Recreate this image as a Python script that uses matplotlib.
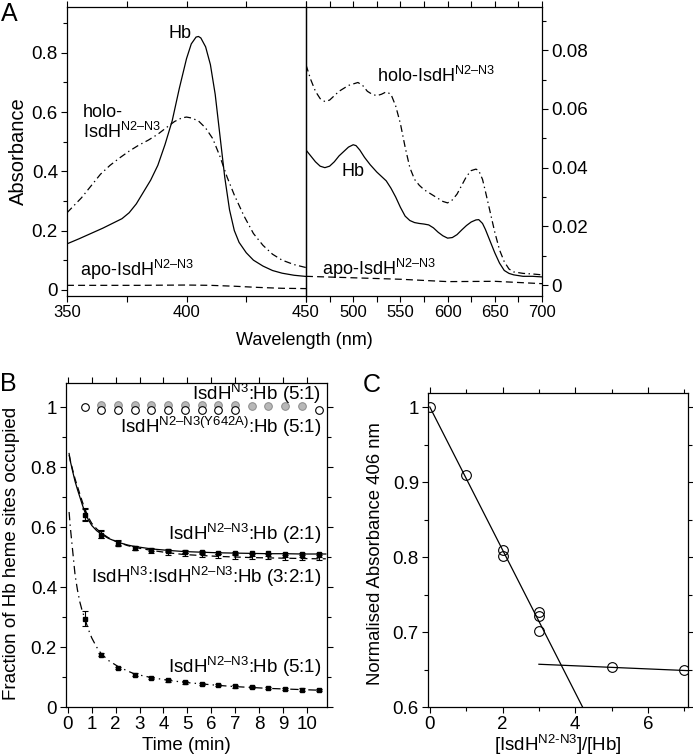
import matplotlib
matplotlib.use("Agg")
import matplotlib.pyplot as plt
from matplotlib.ticker import MultipleLocator, FixedLocator

# ---------------- data: panel A (absorbance spectra) ----------------
wl_left = [350, 355, 360, 365, 370, 373, 376, 379, 382, 385, 388, 391, 394, 397, 400,
           402, 404, 405, 406, 408, 410, 412, 414, 416, 418, 420, 422, 425, 428, 432,
           436, 440, 445, 450]
hb_left = [0.155, 0.172, 0.19, 0.208, 0.228, 0.24, 0.26, 0.29, 0.33, 0.37, 0.42, 0.49,
           0.57, 0.68, 0.78, 0.83, 0.853, 0.855, 0.85, 0.82, 0.76, 0.66, 0.52, 0.38,
           0.27, 0.2, 0.16, 0.125, 0.1, 0.08, 0.065, 0.056, 0.049, 0.045]
wl_left_h = [350, 353, 356, 360, 364, 368, 372, 376, 380, 384, 388, 392, 395, 398, 400,
             402, 405, 408, 411, 414, 417, 420, 424, 428, 432, 436, 440, 445, 450]
holo_left = [0.26, 0.285, 0.31, 0.35, 0.39, 0.42, 0.445, 0.468, 0.488, 0.505, 0.525,
             0.55, 0.568, 0.58, 0.583, 0.58, 0.57, 0.546, 0.51, 0.45, 0.38, 0.32, 0.25,
             0.19, 0.15, 0.12, 0.10, 0.085, 0.075]
wl_left_a = [350, 380, 400, 410, 420, 430, 440, 450]
apo_left = [0.015, 0.015, 0.016, 0.015, 0.012, 0.008, 0.005, 0.004]

wl_right = [450, 455, 460, 465, 470, 475, 480, 485, 490, 495, 500, 503, 507, 512, 518,
            525, 530, 535, 540, 545, 550, 555, 560, 565, 570, 575, 580, 585, 590, 595,
            600, 605, 610, 615, 620, 625, 630, 633, 637, 640, 645, 650, 655, 660, 665,
            670, 680, 690, 700]
hb_right = [0.046, 0.044, 0.042, 0.0405, 0.040, 0.0405, 0.042, 0.044, 0.0455, 0.047,
            0.0478, 0.0475, 0.046, 0.0435, 0.041, 0.0385, 0.037, 0.0355, 0.033, 0.030,
            0.0265, 0.0235, 0.022, 0.0213, 0.021, 0.0208, 0.0205, 0.0195, 0.018, 0.0168,
            0.016, 0.0162, 0.0172, 0.0188, 0.0203, 0.0215, 0.0222, 0.0223, 0.021, 0.019,
            0.015, 0.011, 0.0075, 0.005, 0.004, 0.0035, 0.003, 0.003, 0.0028]
wl_right_h = [450, 455, 460, 465, 470, 475, 480, 485, 490, 495, 500, 505, 510, 515, 520,
              525, 530, 535, 540, 545, 550, 555, 560, 565, 570, 575, 580, 585, 590, 595,
              600, 605, 610, 615, 620, 625, 630, 633, 637, 640, 645, 650, 655, 660, 665,
              670, 680, 690, 700]
holo_right = [0.075, 0.07, 0.066, 0.0635, 0.0625, 0.063, 0.0645, 0.066, 0.067, 0.068,
              0.0685, 0.069, 0.068, 0.066, 0.065, 0.0645, 0.065, 0.0658, 0.065, 0.061,
              0.055, 0.047, 0.040, 0.036, 0.034, 0.0325, 0.0315, 0.0305, 0.0295, 0.0285,
              0.028, 0.029, 0.031, 0.034, 0.037, 0.039, 0.0395, 0.039, 0.036, 0.032,
              0.025, 0.018, 0.012, 0.008, 0.0055, 0.0045, 0.004, 0.0038, 0.0035]
wl_right_a = [450, 500, 550, 600, 650, 700]
apo_right = [0.003, 0.0025, 0.002, 0.0012, 0.0013, 0.0005]

# ---------------- data: panel B (time course) ----------------
t_pts = [0.7, 1.4, 2.1, 2.8, 3.5, 4.2, 4.9, 5.6, 6.3, 7.0, 7.7, 8.4, 9.1, 9.8, 10.5]
occ_21 = [0.64, 0.575, 0.545, 0.53, 0.525, 0.521, 0.518, 0.516, 0.514, 0.513, 0.512,
          0.512, 0.511, 0.510, 0.510]
err_21 = [0.02, 0.012, 0.008, 0.006, 0.005, 0.005, 0.004, 0.004, 0.004, 0.004, 0.003,
          0.003, 0.003, 0.003, 0.003]
occ_321 = [0.645, 0.578, 0.548, 0.53, 0.52, 0.513, 0.508, 0.505, 0.503, 0.500, 0.498,
           0.497, 0.496, 0.495, 0.494]
err_321 = [0.02, 0.013, 0.009, 0.007, 0.006, 0.006, 0.006, 0.006, 0.006, 0.006, 0.006,
           0.005, 0.005, 0.005, 0.005]
occ_51 = [0.295, 0.175, 0.13, 0.108, 0.097, 0.089, 0.082, 0.077, 0.073, 0.069, 0.066,
          0.063, 0.060, 0.058, 0.056]
err_51 = [0.025, 0.004, 0.004, 0.004, 0.004, 0.004, 0.004, 0.004, 0.004, 0.004, 0.004,
          0.004, 0.004, 0.004, 0.004]
t_n3 = [1.4, 2.1, 2.8, 3.5, 4.2, 4.9, 5.6, 6.3, 7.0, 7.7, 8.4, 9.1, 9.8]
occ_n3 = [1.006, 1.006, 1.006, 1.006, 1.006, 1.006, 1.006, 1.006, 1.006, 1.002, 1.002,
          1.002, 1.002]
t_y642a = [0.7, 1.4, 2.1, 2.8, 3.5, 4.2, 4.9, 5.6, 6.3, 7.0, 10.5]
occ_y642a = [1.0, 0.989, 0.989, 0.989, 0.989, 0.989, 0.989, 0.989, 0.989, 0.989, 0.99]

t_fit = [0.05, 0.1, 0.2, 0.3, 0.4, 0.5, 0.6, 0.7, 0.85, 1.0, 1.2, 1.4, 1.7, 2.1, 2.5,
         2.8, 3.5, 4.2, 4.9, 5.6, 6.3, 7.0, 7.7, 8.4, 9.1, 9.8, 10.5, 10.8]
fit_21 = [0.845, 0.82, 0.785, 0.752, 0.725, 0.70, 0.675, 0.652, 0.625, 0.605, 0.588,
          0.576, 0.562, 0.549, 0.54, 0.535, 0.527, 0.522, 0.518, 0.516, 0.514, 0.513,
          0.512, 0.511, 0.511, 0.510, 0.510, 0.510]
fit_321 = [0.84, 0.822, 0.79, 0.76, 0.735, 0.71, 0.685, 0.662, 0.633, 0.612, 0.594,
           0.58, 0.564, 0.549, 0.538, 0.532, 0.522, 0.514, 0.508, 0.505, 0.502, 0.500,
           0.498, 0.497, 0.496, 0.495, 0.494, 0.494]
fit_51 = [0.65, 0.6, 0.52, 0.44, 0.39, 0.35, 0.32, 0.297, 0.26, 0.23, 0.2, 0.177, 0.155,
          0.135, 0.12, 0.11, 0.098, 0.089, 0.082, 0.077, 0.072, 0.068, 0.065, 0.062,
          0.060, 0.058, 0.056, 0.055]

# ---------------- data: panel C (titration) ----------------
ratio = [0, 1, 2, 2, 3, 3, 3, 5, 7]
norm_abs = [1.0, 0.91, 0.809, 0.802, 0.727, 0.722, 0.702, 0.653, 0.649]
line1_x = [0, 4.2]
line1_y = [1.0, 0.6]
line2_x = [3.0, 7.1]
line2_y = [0.657, 0.6485]

# ---------------- style ----------------
plt.rcParams.update({
    "font.family": ["Liberation Sans", "DejaVu Sans"],
    "mathtext.fontset": "custom",
    "mathtext.rm": "Liberation Sans",
    "mathtext.it": "Liberation Sans:italic",
    "mathtext.bf": "Liberation Sans:bold",
    "lines.scale_dashes": False,
    "axes.linewidth": 0.9,
    "xtick.direction": "out",
    "ytick.direction": "out",
    "xtick.major.size": 4.5,
    "ytick.major.size": 4.5,
    "xtick.minor.size": 3,
    "ytick.minor.size": 3,
    "xtick.major.width": 0.8,
    "ytick.major.width": 0.8,
    "xtick.minor.width": 0.8,
    "ytick.minor.width": 0.8,
    "xtick.major.pad": 2,
    "ytick.major.pad": 2,
})

W, H = 693, 756
fig = plt.figure(figsize=(W / 100, H / 100), dpi=100)


def px_axes(l, t, r, b):
    return fig.add_axes([l / W, 1 - b / H, (r - l) / W, (b - t) / H])


axL = px_axes(67, 7, 306, 296)
axR = px_axes(306, 7, 542, 296)
axB = px_axes(66, 383, 327, 707)
axC = px_axes(428, 393, 688, 707)

LW = 0.9
DASHDOT = (0, (5, 2.5, 1, 2.5))
DASHED = (0, (5, 3))
N23 = r"IsdH$^{\mathrm{N2–N3}}$"

# ---------------- panel A left ----------------
axL.plot(wl_left, hb_left, color="black", lw=LW)
axL.plot(wl_left_h, holo_left, color="black", lw=LW, ls=DASHDOT)
axL.plot(wl_left_a, apo_left, color="black", lw=LW, ls=DASHED)
axL.set_xlim(350, 450)
axL.set_ylim(-0.021, 0.9545)
axL.xaxis.set_major_locator(FixedLocator([350, 400, 450]))
axL.xaxis.set_minor_locator(FixedLocator([375, 425]))
axL.yaxis.set_major_locator(FixedLocator([0, 0.2, 0.4, 0.6, 0.8]))
axL.yaxis.set_minor_locator(FixedLocator([0.1, 0.3, 0.5, 0.7, 0.9]))
axL.set_yticklabels(["0", "0.2", "0.4", "0.6", "0.8"])
axL.tick_params(which="both", top=True, right=False, labeltop=False)
axL.tick_params(axis="x", which="both", length=4.5)
axL.tick_params(axis="x", labelsize=12)
axL.tick_params(axis="y", labelsize=13.5)
axL.set_ylabel("Absorbance", fontsize=14.5, va="center")
axL.yaxis.set_label_coords(-0.205, 0.5)
axL.set_xlabel("Wavelength (nm)", fontsize=13)
axL.xaxis.set_label_coords(0.994, -0.125)

axL.text(397.3, 0.85, "Hb", fontsize=13, ha="center", va="baseline")
axL.text(356.7, 0.583, "holo-", fontsize=13, ha="left", va="baseline")
axL.text(356.7, 0.512, N23, fontsize=13, ha="left", va="baseline")
axL.text(355.4, 0.047, "apo-" + N23, fontsize=13, ha="left", va="baseline")

# ---------------- panel A right ----------------
axR.patch.set_alpha(0)
axR.plot(wl_right, hb_right, color="black", lw=LW)
axR.plot(wl_right_h, holo_right, color="black", lw=LW, ls=DASHDOT)
axR.plot(wl_right_a, apo_right, color="black", lw=LW, ls=DASHED)
axR.set_xlim(450, 700)
axR.set_ylim(-0.0037, 0.0947)
axR.xaxis.set_major_locator(FixedLocator([450, 500, 550, 600, 650, 700]))
axR.xaxis.set_minor_locator(MultipleLocator(25))
axR.set_xticklabels(["", "500", "550", "600", "650", "700"])
axR.yaxis.set_major_locator(FixedLocator([0, 0.02, 0.04, 0.06, 0.08]))
axR.yaxis.set_minor_locator(FixedLocator([0.01, 0.03, 0.05, 0.07, 0.09]))
axR.yaxis.tick_right()
axR.set_yticklabels(["0", "0.02", "0.04", "0.06", "0.08"])
axR.tick_params(which="both", top=True, left=False, right=True, labelleft=False,
                labelright=True)
axR.tick_params(axis="x", which="both", length=4.5)
axR.tick_params(axis="x", labelsize=12)
axR.tick_params(axis="y", labelsize=13.5)

axR.text(525.2, 0.0692, "holo-" + N23, fontsize=13, ha="left", va="baseline")
axR.text(488, 0.037, "Hb", fontsize=13, ha="left", va="baseline")
axR.text(467, 0.0034, "apo-" + N23, fontsize=13, ha="left", va="baseline")

# ---------------- panel B ----------------
axB.plot(t_fit, fit_21, color="black", lw=LW)
axB.plot(t_fit, fit_321, color="black", lw=LW, ls=DASHED)
axB.plot(t_fit, fit_51, color="black", lw=LW, ls=(0, (6, 3, 1, 3)))
axB.errorbar(t_pts, occ_321, yerr=err_321, fmt="none", ecolor="black", elinewidth=0.8,
             capsize=2.2, capthick=0.8)
axB.errorbar(t_pts, occ_21, yerr=err_21, fmt="s", color="black", ms=2.2,
             elinewidth=0.8, capsize=2.2, capthick=0.8)
axB.errorbar(t_pts, occ_51, yerr=err_51, fmt="s", color="black", ms=2.2,
             elinewidth=0.8, capsize=2.2, capthick=0.8)
axB.plot(t_n3, occ_n3, "o", ms=5.5, mfc="#b8b8b8", mec="#8a8a8a", mew=0.7)
axB.plot(t_y642a, occ_y642a, "o", ms=5.5, mfc="white", mec="black", mew=0.8)
axB.set_xlim(-0.08, 10.85)
axB.set_ylim(0, 1.08)
axB.xaxis.set_major_locator(MultipleLocator(1))
axB.yaxis.set_major_locator(FixedLocator([0, 0.2, 0.4, 0.6, 0.8, 1.0]))
axB.yaxis.set_minor_locator(FixedLocator([0.1, 0.3, 0.5, 0.7, 0.9]))
axB.set_yticklabels(["0", "0.2", "0.4", "0.6", "0.8", "1"])
axB.tick_params(which="both", top=True, right=True, labelsize=13.5)
axB.set_xlabel("Time (min)", fontsize=13.5)
axB.xaxis.set_label_coords(0.46, -0.093)
axB.set_ylabel("Fraction of Hb heme sites occupied", fontsize=13.5, va="center")
axB.yaxis.set_label_coords(-0.21, 0.475)

txtB = dict(fontsize=13.5, ha="right", va="baseline")
axB.text(10.6, 1.023, r"IsdH$^{\mathrm{N3}}$:Hb (5:1)", **txtB)
axB.text(10.6, 0.913, r"IsdH$^{\mathrm{N2–N3(Y642A)}}$:Hb (5:1)", **txtB)
axB.text(10.6, 0.557, N23 + ":Hb (2:1)", **txtB)
axB.text(10.6, 0.414, r"IsdH$^{\mathrm{N3}}$:" + N23 + ":Hb (3:2:1)", **txtB)
axB.text(10.6, 0.112, N23 + ":Hb (5:1)", **txtB)

# ---------------- panel C ----------------
axC.plot(line1_x, line1_y, color="black", lw=LW)
axC.plot(line2_x, line2_y, color="black", lw=LW)
axC.plot(ratio, norm_abs, "o", ms=7, mfc="none", mec="black", mew=0.8)
axC.set_xlim(-0.05, 7.1)
axC.set_ylim(0.6, 1.0187)
axC.xaxis.set_major_locator(FixedLocator([0, 2, 4, 6]))
axC.xaxis.set_minor_locator(FixedLocator([1, 3, 5, 7]))
axC.yaxis.set_major_locator(FixedLocator([0.6, 0.7, 0.8, 0.9, 1.0]))
axC.yaxis.set_minor_locator(FixedLocator([0.65, 0.75, 0.85, 0.95]))
axC.set_yticklabels(["0.6", "0.7", "0.8", "0.9", "1"])
axC.tick_params(which="both", top=True, right=True, labelsize=13.5)
axC.set_xlabel(r"[IsdH$^{\mathrm{N2‐N3}}$]/[Hb]", fontsize=13.5)
axC.xaxis.set_label_coords(0.5, -0.082)
axC.set_ylabel("Normalised Absorbance 406 nm", fontsize=13.3, va="center")
axC.yaxis.set_label_coords(-0.2, 0.49)

# ---------------- panel letters ----------------
fig.text(1 / W, 1 - 14 / H, "A", fontsize=18, ha="left", va="center")
fig.text(0 / W, 1 - 384 / H, "B", fontsize=18, ha="left", va="center")
fig.text(363 / W, 1 - 385 / H, "C", fontsize=18, ha="left", va="center")

fig.savefig("out.png", dpi=100)
